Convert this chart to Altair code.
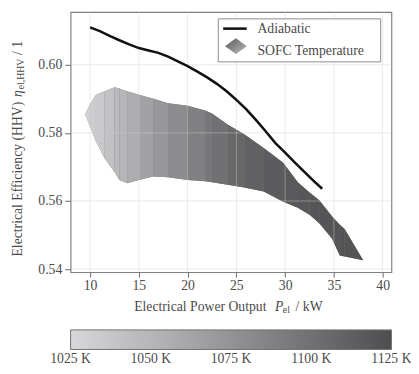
import altair as alt
import pandas as pd

FONT = "Liberation Serif"
TXT = "#4a4a4a"

# ---- data -------------------------------------------------------------
# adiabatic operating line: electrical power (kW) vs efficiency
adi_x = [10, 11, 12, 13, 14, 15, 16, 17, 18, 19, 20, 21, 22, 23, 24, 25,
         26, 27, 28, 29, 30, 31, 32, 33, 33.8]
adi_y = [0.6110, 0.6099, 0.6085, 0.6072, 0.6060, 0.6049, 0.6042, 0.6035,
         0.6024, 0.6010, 0.5996, 0.5980, 0.5963, 0.5944, 0.5922, 0.5897,
         0.5870, 0.5838, 0.5805, 0.5770, 0.5742, 0.5713, 0.5685, 0.5657,
         0.5636]

# SOFC temperature region: boundary nodes (power, upper eff., lower eff.)
reg_x = [9.5, 10.0, 10.6, 11.5, 12.5, 13.0, 13.8, 15.0, 16.5, 18.0, 20.0,
         21.8, 22.5, 24.1, 25.8, 27.8, 29.8, 31.3, 32.5, 33.5, 34.8, 35.6,
         36.1, 38.0]
reg_up = [0.5855, 0.5885, 0.5912, 0.5922, 0.5934, 0.5930, 0.5922, 0.5912,
          0.5900, 0.5887, 0.5880, 0.5866, 0.5857, 0.5825, 0.5796, 0.5756,
          0.5712, 0.5655, 0.5625, 0.5602, 0.5555, 0.5530, 0.5518, 0.5426]
reg_lo = [0.5855, 0.5818, 0.5775, 0.5725, 0.5685, 0.5662, 0.5652, 0.5662,
          0.5672, 0.5670, 0.5662, 0.5658, 0.5655, 0.5648, 0.5640, 0.5628,
          0.5598, 0.5580, 0.5560, 0.5535, 0.5490, 0.5440, 0.5437, 0.5426]
# SOFC temperature (K) of each strip between consecutive nodes
strip_T = [1031, 1033, 1036, 1041, 1046, 1050, 1056, 1064, 1072, 1080,
           1089, 1095, 1100, 1106, 1111, 1115, 1117, 1118, 1119, 1120,
           1120, 1121, 1121]

x_ticks = [10, 15, 20, 25, 30, 35, 40]
y_ticks = [0.54, 0.56, 0.58, 0.60]
cbar_ticks = [1025, 1050, 1075, 1100, 1125]
cbar_labels = ["1025 K", "1050 K", "1075 K", "1100 K", "1125 K"]

# ---- tables -----------------------------------------------------------
rows = []
for i, t in enumerate(strip_T):
    for j in (i, i + 1):
        rows.append({"strip": i, "x": reg_x[j], "up": reg_up[j],
                     "lo": reg_lo[j], "T": t})
region_df = pd.DataFrame(rows)
outline_df = pd.DataFrame({"x": reg_x, "up": reg_up, "lo": reg_lo})
adi_df = pd.DataFrame({"x": adi_x, "y": adi_y})
xg_df = pd.DataFrame({"v": x_ticks})
yg_df = pd.DataFrame({"v": y_ticks})
cb_df = pd.DataFrame({"T": cbar_ticks, "lab": cbar_labels})
one = pd.DataFrame({"k": [0]})

xscale = alt.Scale(domain=[8, 40.9], nice=False, zero=False)
yscale = alt.Scale(domain=[0.5391, 0.6155], nice=False, zero=False)
tscale = alt.Scale(domain=[1025, 1125], nice=False, zero=False)
cscale = alt.Scale(domain=[1025, 1125], range=["#d8d8db", "#4e4e50"],
                   interpolate="rgb")

xaxis = alt.Axis(values=x_ticks, grid=False, domain=False, title=None,
                 tickColor="#666", tickSize=5, labelFont=FONT,
                 labelFontSize=14, labelColor=TXT, labelPadding=2)
yaxis = alt.Axis(values=y_ticks, format=".2f", grid=False, domain=False,
                 title=None, tickColor="#666", tickSize=6, labelFont=FONT,
                 labelFontSize=14, labelColor=TXT, labelPadding=3)

# underlay hides hairline seams between the temperature strips
underlay = alt.Chart(outline_df).mark_area(
    opacity=1, color="#7a7a7a").encode(
    x=alt.X("x:Q", scale=xscale, axis=xaxis),
    y=alt.Y("up:Q", scale=yscale, axis=yaxis),
    y2="lo:Q",
)

region = alt.Chart(region_df).mark_area(opacity=1).encode(
    x=alt.X("x:Q", scale=xscale, axis=None),
    y=alt.Y("up:Q", scale=yscale),
    y2="lo:Q",
    detail="strip:N",
    color=alt.Color("T:Q", scale=cscale, legend=alt.Legend(
        type="gradient", orient="none", legendX=0, legendY=325,
        direction="horizontal",
        gradientLength=328, gradientThickness=20, title=None,
        values=cbar_ticks, labelExpr="''",
        gradientStrokeColor="#707070", gradientStrokeWidth=1)),
)

xgrid = alt.Chart(xg_df).mark_rule(color="#cfcfcf", opacity=0.45,
                                   strokeWidth=1).encode(
    x=alt.X("v:Q", scale=xscale, axis=None))
ygrid = alt.Chart(yg_df).mark_rule(color="#cfcfcf", opacity=0.45,
                                   strokeWidth=1).encode(
    y=alt.Y("v:Q", scale=yscale))

line = alt.Chart(adi_df).mark_line(color="#111111", strokeWidth=2.6).encode(
    x=alt.X("x:Q", scale=xscale, axis=None),
    y=alt.Y("y:Q", scale=yscale))

# colour-bar labels, placed with a temperature scale spanning the bar
cb_text = alt.Chart(cb_df).mark_text(
    align="center", baseline="middle", font=FONT, fontSize=14,
    color=TXT).encode(
    x=alt.X("T:Q", scale=tscale, axis=None),
    y=alt.value(355),
    text="lab:N")

# ---- manual legend ----------------------------------------------------
lbox = alt.Chart(one).mark_rect(fill="white", stroke="#8a8a8a",
                                strokeWidth=1).encode(
    x=alt.value(151), x2=alt.value(317), y=alt.value(7), y2=alt.value(51))
lline = alt.Chart(one).mark_rule(color="#111111", strokeWidth=2.6).encode(
    x=alt.value(156), x2=alt.value(180), y=alt.value(17))
ldiam = alt.Chart(one).mark_point(
    shape="M -1 0 L 0 -0.72 L 1 0 L 0 0.72 Z", filled=True, opacity=1,
    size=500,
    fill=alt.Gradient(gradient="linear", x1=0, y1=0, x2=1, y2=1, stops=[
        alt.GradientStop(color="#555555", offset=0),
        alt.GradientStop(color="#8a8a8a", offset=0.5),
        alt.GradientStop(color="#bdbdbd", offset=1)])).encode(
    x=alt.value(169), y=alt.value(35))


def txt(s, x, y, size=14, style="normal", angle=0):
    return alt.Chart(one).mark_text(
        align="left", baseline="middle", font=FONT, fontSize=size,
        fontStyle=style, color=TXT, angle=angle).encode(
        x=alt.value(x), y=alt.value(y), text=alt.value(s))


ltxt = [txt("Adiabatic", 191, 17),
        txt("SOFC Temperature", 191, 40)]

# ---- axis titles with sub-scripts ------------------------------------
xt = [txt("Electrical Power Output", 65, 302),
      txt("P", 209, 302, style="italic"),
      txt("el", 217, 305, size=10),
      txt("/ kW", 230, 302)]
yt = [txt("Electrical Efficiency (HHV)", -54, 250, angle=270),
      txt("\u03b7", -54, 87, style="italic", angle=270),
      txt("el,HHV", -51, 79, size=10, angle=270),
      txt("/ 1", -54, 44, angle=270)]

chart = alt.layer(underlay, region, xgrid, ygrid, line, cb_text, lbox, lline,
                  ldiam, *ltxt, *xt, *yt).resolve_scale(
    x="independent").properties(
    width=328, height=266,
    autosize=alt.AutoSizeParams(type="none"),
    padding={"left": 64, "top": 0, "right": 20, "bottom": 100},
).configure_view(stroke="#808080", strokeWidth=1.2)

chart.save("out.html", embed_options={"renderer": "svg", "actions": False})
